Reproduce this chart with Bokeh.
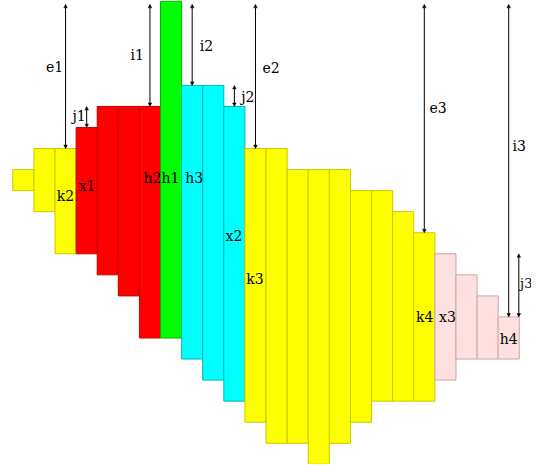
from bokeh.plotting import figure
from bokeh.models import Arrow, NormalHead, ColumnDataSource, Range1d
from bokeh.core.properties import value
from bokeh.embed import file_html
from bokeh.resources import INLINE

# ---- data ----
col_index = list(range(24))
col_top = [-1, 0, 0, 1, 2, 2, 2, 7, 3, 3, 2, 0, 0, -1, -1, -1, -2, -2, -3, -4, -5, -6, -7, -8]
col_bottom = [-2, -3, -5, -5, -6, -7, -9, -9, -10, -11, -12, -13, -14, -14, -15, -14, -13, -12, -12, -12, -11, -10, -10, -10]
col_group = (["yellow"] * 3 + ["red"] * 4 + ["green"] + ["cyan"] * 3
             + ["yellow"] * 9 + ["pink"] * 4)

# measurement arrows: column x (data), from level, to level
arrow_x = [2.5, 6.5, 3.5, 8.5, 11.5, 10.5, 19.5, 23.5, 23.98]
arrow_from = [6.85, 6.85, 2.0, 6.85, 6.85, 3.0, 6.85, 6.85, -5.0]
arrow_to = [0, 2, 1, 3, 0, 2, -4, -8, -8]

# text labels
label_text = ["e1", "i1", "j1", "i2", "e2", "j2", "e3", "i3",
              "k2", "x1", "h2", "h1", "h3", "x2", "k3", "k4", "x3", "h4"]
label_x = [1.98, 5.89, 3.14, 9.18, 12.24, 11.14, 20.15, 24.0,
           2.5, 3.52, 6.62, 7.47, 8.6, 10.48, 11.48, 19.52, 20.6, 23.5]
label_y = [3.9, 4.45, 1.55, 4.85, 3.85, 2.43, 1.96, 0.1,
           -2.27, -1.79, -1.41, -1.41, -1.41, -4.16, -6.19, -8.0, -8.0, -9.04]
edge_text = ["j3"]
edge_x = [24.04]
edge_y = [-6.4]

# ---- styles ----
fills = {"yellow": "#ffff00", "red": "#ff0000", "green": "#00ff00",
         "cyan": "#00ffff", "pink": "#ffe0e0"}
lines = {"yellow": "#c8c800", "red": "#c80000", "green": "#00b400",
         "cyan": "#00b4b4", "pink": "#c8a8a8"}

src = ColumnDataSource(dict(
    left=[i for i in col_index],
    right=[i + 1 for i in col_index],
    top=col_top,
    bottom=col_bottom,
    fill=[fills[g] for g in col_group],
    line=[lines[g] for g in col_group],
))

p = figure(width=531, height=464, output_backend="svg", toolbar_location=None,
           x_range=Range1d(-0.583, 24.58), y_range=Range1d(-15.01, 7.033),
           min_border=0, background_fill_color="white")
p.axis.visible = False
p.grid.visible = False
p.outline_line_color = None

p.quad(left="left", right="right", top="top", bottom="bottom", source=src,
       fill_color="fill", line_color="line", line_width=1)

for x, y0, y1 in zip(arrow_x, arrow_from, arrow_to):
    p.add_layout(Arrow(x_start=x, y_start=y0, x_end=x, y_end=y1,
                       line_color="black", line_width=1,
                       start=NormalHead(size=3.5, line_color="black", fill_color="black", line_width=0.5),
                       end=NormalHead(size=3.5, line_color="black", fill_color="black", line_width=0.5)))

serif = value("DejaVu Serif")
p.text(x=label_x, y=label_y, text=label_text,
       text_font=serif, text_font_size="14px",
       text_align="center", text_baseline="middle", text_color="black")
p.text(x=edge_x, y=edge_y, text=edge_text,
       text_font=serif, text_font_size="13px",
       text_align="left", text_baseline="middle", text_color="black")

open("out.html", "w").write(file_html(p, INLINE))
